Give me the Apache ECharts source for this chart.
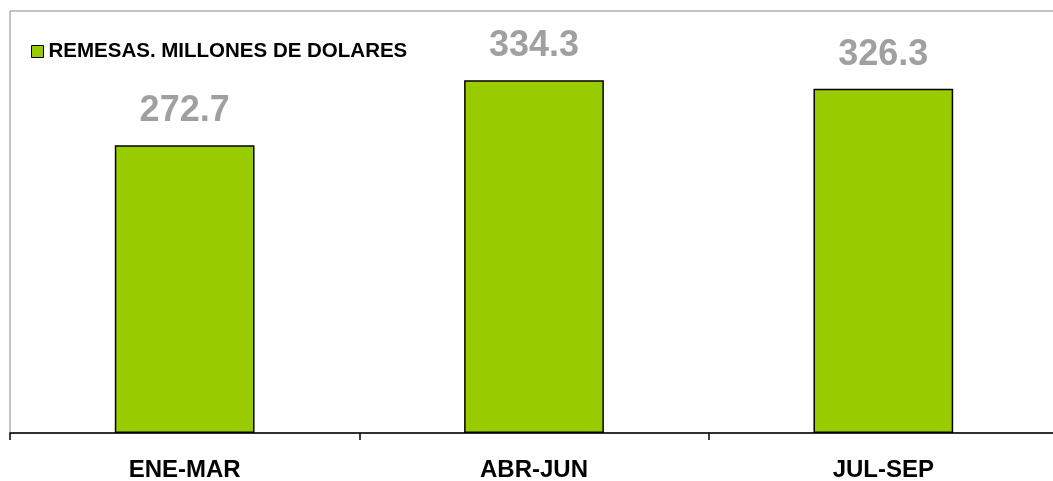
<!DOCTYPE html>
<html>
<head>
<meta charset="utf-8">
<script src="https://cdn.jsdelivr.net/npm/echarts@6/dist/echarts.min.js"></script>
<style>
	html, body { margin: 0; padding: 0; background: #fff; }
	#chart { width: 1053px; height: 481px; }
</style>
</head>
<body>
<div id="chart"></div>
<script>
const categories = ['ENE-MAR', 'ABR-JUN', 'JUL-SEP'];
const remesas = [272.7, 334.3, 326.3];
const seriesName = 'REMESAS. MILLONES DE DOLARES';

let myChart = echarts.init(document.getElementById('chart'));
let option = {
	animation: false,
	backgroundColor: '#fff',
	textStyle: { fontFamily: '"Liberation Sans", Arial, sans-serif' },
	grid: {
		left: 10,
		right: -5,
		top: 11,
		bottom: 48,
		outerBoundsMode: 'none',
		show: true,
		borderColor: '#888',
		borderWidth: 1
	},
	legend: {
		left: 26,
		top: 36,
		itemWidth: 12,
		itemHeight: 12,
		itemGap: 6,
		icon: 'rect',
		itemStyle: { borderColor: '#000', borderWidth: 1 },
		textStyle: {
			fontSize: 20.5,
			fontWeight: 'bold',
			color: '#000'
		},
		data: [seriesName]
	},
	xAxis: {
		type: 'category',
		data: categories,
		axisLine: { lineStyle: { color: '#000', width: 1.5 } },
		axisTick: { show: true, length: 7, lineStyle: { color: '#000', width: 1.5 } },
		axisLabel: {
			margin: 25,
			fontSize: 24,
			fontWeight: 'bold',
			color: '#000'
		}
	},
	yAxis: {
		type: 'value',
		min: 0,
		max: 400,
		show: false
	},
	series: [{
		name: seriesName,
		type: 'bar',
		data: remesas,
		barWidth: '40%',
		itemStyle: {
			color: '#99cc00',
			borderColor: '#000',
			borderWidth: 1.5
		},
		label: {
			show: true,
			position: 'top',
			distance: 16,
			fontSize: 36,
			fontWeight: 'bold',
			color: '#a0a0a0',
			formatter: function(p) { return p.value.toFixed(1); }
		}
	}]
};
myChart.setOption(option);
</script>
</body>
</html>
